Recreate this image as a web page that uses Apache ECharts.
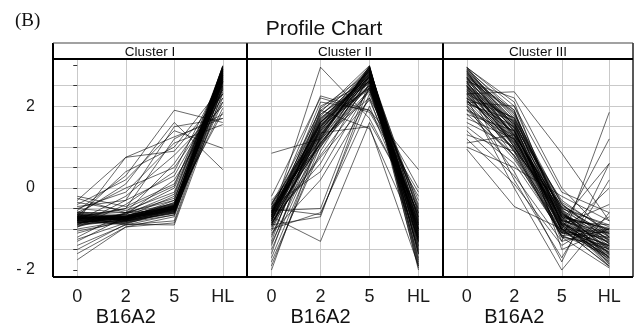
<!DOCTYPE html>
<html>
<head>
<meta charset="utf-8">
<script src="https://cdn.jsdelivr.net/npm/echarts@6/dist/echarts.min.js"></script>
<style>
  html, body { margin: 0; padding: 0; background: #fff; }
  #main { width: 639px; height: 325px; }
</style>
</head>
<body>
<div id="main"></div>
<script>
// time points on the x axis of every panel
const categories = ['0', '2', '5', 'HL'];
const panelNames = ['Cluster I', 'Cluster II', 'Cluster III'];
const yTicks = [-2, -1.5, -1, -0.5, 0, 0.5, 1, 1.5, 2, 2.5, 3];
const yLabels = [-2, 0, 2];

// one row per gene profile: [0, 2, 5, HL]
const clusterI = [
  [-0.75, -0.72, -0.45, 2.95], [-0.70, -0.75, -0.50, 2.90], [-0.80, -0.70, -0.48, 2.85],
  [-0.65, -0.78, -0.42, 2.80], [-0.85, -0.74, -0.55, 2.75], [-0.72, -0.68, -0.40, 2.70],
  [-0.78, -0.80, -0.52, 2.65], [-0.68, -0.72, -0.58, 2.60], [-0.90, -0.76, -0.46, 2.55],
  [-0.62, -0.70, -0.50, 2.50], [-0.82, -0.82, -0.62, 2.45], [-0.74, -0.66, -0.44, 2.40],
  [-1.00, -0.80, -0.60, 2.30], [-1.10, -0.78, -0.55, 2.90], [-1.25, -0.85, -0.50, 2.80],
  [-1.40, -0.90, -0.65, 2.60], [-1.60, -0.95, -0.70, 2.70], [-1.75, -0.95, -0.85, 2.50],
  [-0.50, -0.60, -0.30, 2.85], [-0.35, -0.55, -0.10, 2.75], [-0.20, -0.45, 0.10, 2.60],
  [-0.45, -0.30, 0.30, 2.40], [-0.60, 0.00, 0.50, 2.20], [-0.70, 0.40, 1.00, 2.50],
  [-0.80, 0.75, 0.90, 2.30], [-0.30, 0.75, 1.25, 1.70], [-0.55, 0.30, 1.90, 1.60],
  [-0.40, 0.20, 1.40, 0.97], [-0.65, 0.10, 1.60, 0.45], [-0.90, -0.30, 1.50, 1.70],
  [-0.70, -0.50, 1.20, 1.80], [-0.80, -0.20, 0.80, 2.00], [-0.60, -0.60, 0.60, 2.30],
  [-0.75, -0.65, 0.20, 2.10], [-1.20, -0.60, 0.00, 2.60], [-0.95, -0.40, 0.40, 2.75],
  [-0.85, -0.70, -0.20, 2.90], [-0.70, -0.74, -0.30, 2.95], [-0.78, -0.90, -0.80, 2.65],
  [-0.72, -0.88, -0.90, 2.35], [-0.66, -0.76, -0.35, 1.85], [-0.50, -0.10, 1.10, 1.55],
  [-0.88, -0.62, -0.38, 2.98], [-0.76, -0.78, -0.48, 2.88], [-0.64, -0.74, -0.53, 2.78],
  [-0.82, -0.71, -0.43, 2.68], [-1.30, -0.70, -0.45, 2.58], [-0.58, -0.66, -0.47, 2.92],
  [-0.25, -0.60, -0.52, 2.82], [-0.84, -0.86, -0.57, 2.72],
  [-0.73, -0.73, -0.47, 2.97], [-0.77, -0.71, -0.49, 2.87], [-0.69, -0.77, -0.51, 2.77],
  [-0.81, -0.75, -0.41, 2.67], [-0.71, -0.79, -0.56, 2.57], [-0.79, -0.69, -0.39, 2.47],
  [-0.86, -0.73, -0.53, 2.93], [-0.67, -0.81, -0.61, 2.83], [-0.63, -0.72, -0.44, 2.73],
  [-0.92, -0.77, -0.58, 2.63], [-0.74, -0.70, -0.36, 2.53], [-0.80, -0.84, -0.66, 2.43],
  [-0.70, -0.76, -0.50, 2.99], [-0.76, -0.74, -0.46, 2.89], [-0.84, -0.68, -0.42, 2.79],
  [-0.60, -0.70, -0.55, 2.69], [-1.05, -0.82, -0.48, 2.84], [-1.50, -0.88, -0.52, 2.74],
  [-0.95, -0.60, -0.25, 2.64], [-0.72, -0.50, 0.05, 2.86], [-0.78, -0.64, -0.15, 2.96],
  [-0.88, -0.80, -0.60, 2.20], [-0.66, -0.70, -0.50, 2.10], [-0.74, -0.76, -0.44, 1.95]
];

const clusterII = [
  [-0.50, 1.20, 2.95, -1.00], [-0.60, 1.40, 2.90, -0.80], [-0.70, 1.50, 2.85, -1.20],
  [-0.80, 1.60, 2.80, -0.60], [-0.45, 1.30, 2.75, -1.40], [-0.90, 1.70, 2.70, -0.90],
  [-0.55, 1.10, 2.65, -0.50], [-1.00, 1.80, 2.60, -1.10], [-0.35, 1.00, 2.55, -1.30],
  [-0.65, 1.45, 2.50, -0.70], [-0.75, 1.55, 2.45, -1.50], [-0.85, 0.80, 2.40, -0.30],
  [-1.20, 1.60, 2.95, -1.80], [-1.50, 1.20, 2.90, -1.90], [-1.80, 0.90, 2.80, -2.00],
  [-2.00, 1.30, 2.85, -1.60], [-1.60, 1.90, 2.70, -1.70], [-1.30, 2.00, 2.60, -0.40],
  [0.85, 1.20, 2.20, 0.00], [-0.20, 2.20, 1.85, -0.20], [-0.60, 2.25, 1.90, -0.10],
  [-0.80, 2.10, 1.90, 0.45], [-0.70, 2.95, 1.70, -0.60], [-0.40, 1.90, 1.45, -1.20],
  [-0.90, -0.70, 2.50, -1.00], [-0.50, -0.65, 2.30, -0.70], [-0.70, -1.30, 1.60, -0.50],
  [-0.55, -0.50, 2.60, -1.30], [-1.00, -0.60, 2.00, -0.90], [-0.65, 1.35, 1.50, -1.90],
  [-0.75, 0.60, 2.75, -1.15], [-0.45, 0.40, 2.45, -0.85], [-1.10, 0.20, 2.20, -1.00],
  [-0.95, 1.00, 2.90, -1.60], [-0.70, 1.25, 2.98, -1.35], [-0.60, 1.75, 2.95, -1.05],
  [-0.80, 1.65, 2.88, -0.75], [-1.40, 1.50, 2.78, -1.25], [-0.50, 1.80, 2.68, -0.55],
  [-0.40, 1.55, 2.58, -1.45], [-0.30, 1.05, 2.35, -0.95], [-0.85, 0.75, 2.15, -0.65],
  [-1.70, 1.15, 2.72, -1.75], [-0.65, 1.95, 2.82, -0.45], [-0.55, 1.60, 2.62, -1.55],
  [-0.90, 1.40, 2.92, -1.15], [-0.75, 1.10, 2.52, -0.85], [-1.05, 1.50, 2.42, -1.05],
  [-0.62, 1.35, 2.93, -1.08], [-0.72, 1.48, 2.87, -0.92], [-0.58, 1.28, 2.83, -1.22],
  [-0.82, 1.58, 2.77, -0.72], [-0.48, 1.18, 2.73, -1.32], [-0.68, 1.62, 2.67, -0.98],
  [-0.52, 1.42, 2.63, -1.18], [-0.78, 1.72, 2.57, -0.82], [-0.88, 1.22, 2.97, -1.42],
  [-0.42, 1.52, 2.91, -0.62], [-0.92, 1.32, 2.81, -1.52], [-0.66, 1.68, 2.71, -1.12],
  [-1.15, 1.45, 2.86, -1.62], [-0.74, 1.08, 2.61, -0.78], [-0.56, 1.38, 2.49, -1.28],
  [-1.35, 1.25, 2.76, -1.85], [-1.90, 1.05, 2.66, -1.95], [-0.60, 1.62, 2.44, -0.88],
  [-0.70, 1.85, 2.99, -1.25], [-0.84, 1.12, 2.39, -1.02]
];

const clusterIII = [
  [2.95, 1.50, -0.80, -1.90], [2.90, 1.70, -0.60, -1.70], [2.85, 1.20, -1.00, -1.50],
  [2.80, 1.80, -0.40, -1.30], [2.70, 1.40, -0.90, -1.80], [2.60, 1.00, -1.10, -1.20],
  [2.50, 1.60, -0.70, -1.00], [2.40, 1.30, -0.50, -1.60], [2.30, 0.90, -1.20, -1.40],
  [2.20, 1.10, -0.80, -0.90], [2.10, 1.50, -0.30, -1.10], [2.00, 0.70, -1.00, -1.90],
  [1.90, 1.20, -0.60, -1.50], [1.80, 0.80, -0.90, -1.30], [1.60, 1.00, -0.70, -1.70],
  [1.50, 0.60, -1.10, -1.00], [1.30, 0.90, -0.40, -1.20], [1.00, 0.50, -0.20, -0.80],
  [0.95, -0.45, -1.00, -1.40], [2.30, 2.35, 0.85, -0.80], [2.60, 2.20, 0.00, -1.20],
  [2.10, 2.00, -0.10, -0.60], [2.70, 1.90, -1.50, -1.00], [2.50, 0.20, -1.70, 0.20],
  [2.20, 0.00, -2.00, -0.60], [2.00, 0.40, -1.80, 0.60], [2.80, 1.60, -1.30, 1.85],
  [2.40, 1.40, -1.00, 1.20], [2.60, 1.10, -0.80, 0.60], [1.90, 0.80, -1.10, 0.00],
  [2.90, 1.90, -0.90, -0.40], [2.75, 1.45, -0.75, -1.35], [2.65, 1.25, -0.95, -1.55],
  [2.45, 1.05, -0.85, -1.75], [2.35, 1.35, -0.65, -1.25], [2.55, 1.55, -1.05, -1.45],
  [2.15, 0.95, -1.15, -1.65], [2.25, 1.15, -0.55, -1.15], [1.70, 1.20, -0.45, -0.95],
  [2.05, 1.65, -0.35, -1.05], [2.85, 1.75, -0.55, -1.85], [1.40, 0.30, -1.30, -1.00],
  [1.20, 0.10, -1.40, -0.70], [2.50, 1.30, -1.20, -1.95], [2.95, 2.00, -0.70, -1.60],
  [2.70, 1.00, -1.00, -1.10], [1.10, 1.30, -0.50, -0.90], [2.30, 1.70, -0.60, -1.35],
  [2.88, 1.62, -0.72, -1.82], [2.78, 1.52, -0.82, -1.62], [2.68, 1.42, -0.92, -1.42],
  [2.58, 1.32, -0.62, -1.52], [2.48, 1.22, -1.02, -1.72], [2.38, 1.12, -0.78, -1.22],
  [2.28, 1.02, -0.88, -1.32], [2.18, 1.72, -0.48, -1.12], [2.08, 0.92, -1.08, -1.62],
  [2.92, 1.82, -0.58, -1.42], [2.82, 1.38, -0.98, -1.92], [2.72, 1.28, -0.68, -1.02],
  [2.62, 1.58, -0.38, -1.28], [2.52, 0.88, -1.18, -1.48], [2.42, 1.48, -0.52, -1.78],
  [2.32, 1.18, -0.72, -0.98], [2.22, 1.08, -1.02, -1.38], [2.12, 1.38, -0.84, -1.58],
  [2.02, 0.98, -0.64, -1.18], [1.92, 1.28, -0.94, -1.68], [2.76, 1.66, -0.86, -1.26],
  [2.56, 1.16, -0.76, -1.86], [2.36, 0.76, -1.16, -1.06], [2.66, 1.86, -0.66, -1.46],
  [2.86, 1.46, -1.06, -1.56], [2.46, 1.56, -0.46, -1.36], [1.80, 1.40, -0.80, -1.10],
  [2.94, 2.10, -0.90, -1.70]
];

// panel layout (pixels)
const frameTop = 43, stripBottom = 59, frameBottom = 277;
const panels = [
  { left: 53, width: 194 },
  { left: 247, width: 196 },
  { left: 443, width: 190 }
];

const chart = echarts.init(document.getElementById('main'), null, { renderer: 'canvas' });
const font = 'Liberation Sans, Arial, sans-serif';

const grid = panels.map(p => ({
  left: p.left, width: p.width, top: stripBottom, height: frameBottom - stripBottom
}));

const xAxis = panels.map((p, i) => ({
  gridIndex: i,
  type: 'value',
  min: -0.5,
  max: 3.5,
  splitNumber: 4,
  axisLine: { show: false },
  axisTick: { show: false },
  axisLabel: {
    customValues: [0, 1, 2, 3],
    formatter: v => (Number.isInteger(v) && categories[v]) ? categories[v] : '',
    margin: 11,
    fontSize: 18,
    color: '#1a1a1a',
    fontFamily: font
  },
  splitLine: { show: true, showMinLine: false, showMaxLine: false, lineStyle: { color: '#c9c9c9', width: 1 } }
}));

const yAxis = panels.map((p, i) => ({
  gridIndex: i,
  type: 'value',
  min: -2.17,
  max: 3.15,
  splitNumber: 10,
  axisLine: { show: false },
  axisTick: {
    show: i === 0,
    customValues: yTicks,
    length: 4,
    lineStyle: { color: '#333', width: 1 }
  },
  axisLabel: {
    show: i === 0,
    customValues: yLabels,
    formatter: v => {
      if (Math.abs(v + 2) < 1e-6) return '- 2';
      if (Math.abs(v) < 1e-6) return '0';
      if (Math.abs(v - 2) < 1e-6) return '2';
      return '';
    },
    margin: 18,
    fontSize: 16,
    color: '#1a1a1a',
    fontFamily: font
  },
  splitLine: { show: true, showMinLine: false, showMaxLine: false, lineStyle: { color: '#c9c9c9', width: 1 } }
}));

const series = [];
[clusterI, clusterII, clusterIII].forEach((rows, p) => {
  rows.forEach(r => {
    series.push({
      type: 'line',
      xAxisIndex: p,
      yAxisIndex: p,
      data: r.map((v, k) => [k, v]),
      symbol: 'none',
      silent: true,
      z: 3,
      lineStyle: { color: '#000', width: 0.7, opacity: 0.85 }
    });
  });
});

// frame, strip headers and page texts
const graphic = [
  { type: 'text', left: 15, top: 12, style: { text: '(B)', fontSize: 19, fontFamily: 'Liberation Serif, Times New Roman, serif', fill: '#111' } },
  { type: 'text', z: 110, style: { text: 'Profile Chart', x: 324, y: 29, align: 'center', verticalAlign: 'middle', fontSize: 21, fontFamily: font, fill: '#111' } }
];
panels.forEach((p, i) => {
  graphic.push({
    type: 'text', z: 110,
    style: {
      text: panelNames[i], x: p.left + p.width / 2, y: (frameTop + stripBottom) / 2 + 1,
      align: 'center', verticalAlign: 'middle', fontSize: 13.5, fontFamily: font, fill: '#111'
    }
  });
  graphic.push({
    type: 'text', z: 110,
    style: {
      text: 'B16A2', x: p.left + p.width * 0.375, y: 317,
      align: 'center', verticalAlign: 'middle', fontSize: 20, fontFamily: font, fill: '#111'
    }
  });
  // vertical separators / borders
  graphic.push({ type: 'line', z: 120, shape: { x1: p.left, y1: frameTop, x2: p.left, y2: frameBottom }, style: { stroke: '#000', lineWidth: 2 } });
});
const right = panels[2].left + panels[2].width;
graphic.push(
  { type: 'line', z: 120, shape: { x1: right, y1: frameTop, x2: right, y2: frameBottom }, style: { stroke: '#222', lineWidth: 1.5 } },
  { type: 'line', z: 120, shape: { x1: panels[0].left, y1: frameTop, x2: right, y2: frameTop }, style: { stroke: '#444', lineWidth: 1.2 } },
  { type: 'line', z: 120, shape: { x1: panels[0].left, y1: stripBottom, x2: right, y2: stripBottom }, style: { stroke: '#000', lineWidth: 2 } },
  { type: 'line', z: 120, shape: { x1: panels[0].left, y1: frameBottom, x2: right, y2: frameBottom }, style: { stroke: '#000', lineWidth: 2 } }
);

chart.setOption({
  animation: false,
  backgroundColor: '#fff',
  grid: grid,
  xAxis: xAxis,
  yAxis: yAxis,
  series: series,
  graphic: graphic
});
</script>
</body>
</html>
